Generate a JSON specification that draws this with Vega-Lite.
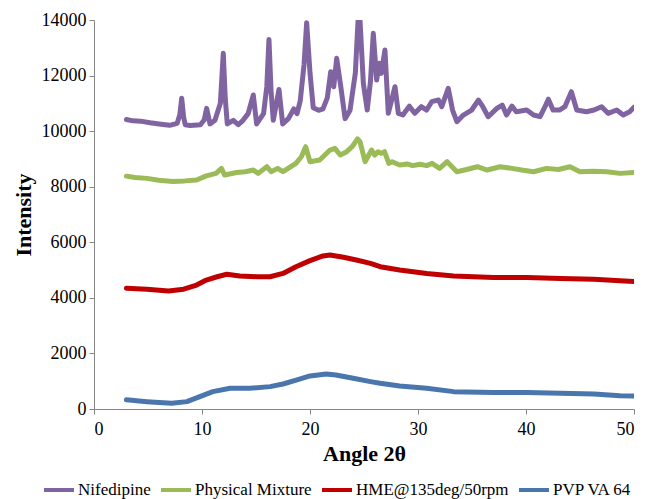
{
  "$schema": "https://vega.github.io/schema/vega-lite/v6.json",
  "autosize": {"type": "none"},
  "width": 540,
  "height": 389,
  "padding": {"left": 94, "top": 20, "right": 11, "bottom": 90},
  "background": "white",
  "config": {
    "view": {"stroke": null},
    "font": "Liberation Serif"
  },
  "datasets": {
    "xrd": [
      {"series": "Nifedipine", "angle": 3.0, "intensity": 10420},
      {"series": "Nifedipine", "angle": 3.6, "intensity": 10370},
      {"series": "Nifedipine", "angle": 4.3, "intensity": 10360},
      {"series": "Nifedipine", "angle": 5.2, "intensity": 10300},
      {"series": "Nifedipine", "angle": 6.2, "intensity": 10250},
      {"series": "Nifedipine", "angle": 7.0, "intensity": 10210},
      {"series": "Nifedipine", "angle": 7.7, "intensity": 10280},
      {"series": "Nifedipine", "angle": 7.95, "intensity": 10600},
      {"series": "Nifedipine", "angle": 8.12, "intensity": 11180},
      {"series": "Nifedipine", "angle": 8.3, "intensity": 10500},
      {"series": "Nifedipine", "angle": 8.45, "intensity": 10230},
      {"series": "Nifedipine", "angle": 8.9, "intensity": 10200},
      {"series": "Nifedipine", "angle": 9.85, "intensity": 10230},
      {"series": "Nifedipine", "angle": 10.2, "intensity": 10400},
      {"series": "Nifedipine", "angle": 10.43, "intensity": 10820},
      {"series": "Nifedipine", "angle": 10.74, "intensity": 10260},
      {"series": "Nifedipine", "angle": 11.2, "intensity": 10390},
      {"series": "Nifedipine", "angle": 11.7, "intensity": 11000},
      {"series": "Nifedipine", "angle": 11.97, "intensity": 12800},
      {"series": "Nifedipine", "angle": 12.15, "intensity": 11200},
      {"series": "Nifedipine", "angle": 12.34, "intensity": 10260},
      {"series": "Nifedipine", "angle": 12.9, "intensity": 10390},
      {"series": "Nifedipine", "angle": 13.36, "intensity": 10230},
      {"series": "Nifedipine", "angle": 13.8, "intensity": 10390},
      {"series": "Nifedipine", "angle": 14.27, "intensity": 10630},
      {"series": "Nifedipine", "angle": 14.75, "intensity": 11300},
      {"series": "Nifedipine", "angle": 15.06, "intensity": 10260},
      {"series": "Nifedipine", "angle": 15.7, "intensity": 10630},
      {"series": "Nifedipine", "angle": 16.0, "intensity": 11600},
      {"series": "Nifedipine", "angle": 16.2, "intensity": 13300},
      {"series": "Nifedipine", "angle": 16.4, "intensity": 11400},
      {"series": "Nifedipine", "angle": 16.6, "intensity": 10390},
      {"series": "Nifedipine", "angle": 17.13, "intensity": 11500},
      {"series": "Nifedipine", "angle": 17.47, "intensity": 10260},
      {"series": "Nifedipine", "angle": 18.0, "intensity": 10450},
      {"series": "Nifedipine", "angle": 18.5, "intensity": 10800},
      {"series": "Nifedipine", "angle": 18.8, "intensity": 10630},
      {"series": "Nifedipine", "angle": 19.1, "intensity": 11100},
      {"series": "Nifedipine", "angle": 19.45, "intensity": 12400},
      {"series": "Nifedipine", "angle": 19.69, "intensity": 13900},
      {"series": "Nifedipine", "angle": 20.0, "intensity": 12100},
      {"series": "Nifedipine", "angle": 20.3, "intensity": 10840},
      {"series": "Nifedipine", "angle": 20.8, "intensity": 10750},
      {"series": "Nifedipine", "angle": 21.2, "intensity": 10800},
      {"series": "Nifedipine", "angle": 21.6, "intensity": 11200},
      {"series": "Nifedipine", "angle": 21.92, "intensity": 12140},
      {"series": "Nifedipine", "angle": 22.2, "intensity": 11600},
      {"series": "Nifedipine", "angle": 22.47, "intensity": 12620},
      {"series": "Nifedipine", "angle": 22.85, "intensity": 11600},
      {"series": "Nifedipine", "angle": 23.25, "intensity": 10450},
      {"series": "Nifedipine", "angle": 23.7, "intensity": 10740},
      {"series": "Nifedipine", "angle": 24.2, "intensity": 12100},
      {"series": "Nifedipine", "angle": 24.45, "intensity": 13990},
      {"series": "Nifedipine", "angle": 24.63, "intensity": 13990},
      {"series": "Nifedipine", "angle": 24.94, "intensity": 11720},
      {"series": "Nifedipine", "angle": 25.3, "intensity": 10760},
      {"series": "Nifedipine", "angle": 25.6, "intensity": 11800},
      {"series": "Nifedipine", "angle": 25.86, "intensity": 13520},
      {"series": "Nifedipine", "angle": 26.17, "intensity": 11840},
      {"series": "Nifedipine", "angle": 26.4, "intensity": 12440},
      {"series": "Nifedipine", "angle": 26.6, "intensity": 12080},
      {"series": "Nifedipine", "angle": 26.94, "intensity": 12920},
      {"series": "Nifedipine", "angle": 27.25, "intensity": 10640},
      {"series": "Nifedipine", "angle": 27.87, "intensity": 11600},
      {"series": "Nifedipine", "angle": 28.18, "intensity": 10640},
      {"series": "Nifedipine", "angle": 28.6, "intensity": 10580},
      {"series": "Nifedipine", "angle": 29.2, "intensity": 10900},
      {"series": "Nifedipine", "angle": 29.7, "intensity": 10640},
      {"series": "Nifedipine", "angle": 30.3, "intensity": 10880},
      {"series": "Nifedipine", "angle": 30.8, "intensity": 10760},
      {"series": "Nifedipine", "angle": 31.27, "intensity": 11060},
      {"series": "Nifedipine", "angle": 31.9, "intensity": 11120},
      {"series": "Nifedipine", "angle": 32.2, "intensity": 10880},
      {"series": "Nifedipine", "angle": 32.8, "intensity": 11540},
      {"series": "Nifedipine", "angle": 33.2, "intensity": 10760},
      {"series": "Nifedipine", "angle": 33.6, "intensity": 10340},
      {"series": "Nifedipine", "angle": 34.2, "intensity": 10580},
      {"series": "Nifedipine", "angle": 34.97, "intensity": 10760},
      {"series": "Nifedipine", "angle": 35.6, "intensity": 11120},
      {"series": "Nifedipine", "angle": 36.0, "intensity": 10880},
      {"series": "Nifedipine", "angle": 36.5, "intensity": 10520},
      {"series": "Nifedipine", "angle": 37.3, "intensity": 10820},
      {"series": "Nifedipine", "angle": 37.8, "intensity": 10940},
      {"series": "Nifedipine", "angle": 38.2, "intensity": 10580},
      {"series": "Nifedipine", "angle": 38.7, "intensity": 10900},
      {"series": "Nifedipine", "angle": 39.1, "intensity": 10700},
      {"series": "Nifedipine", "angle": 40.06, "intensity": 10760},
      {"series": "Nifedipine", "angle": 40.7, "intensity": 10580},
      {"series": "Nifedipine", "angle": 41.3, "intensity": 10520},
      {"series": "Nifedipine", "angle": 41.76, "intensity": 10880},
      {"series": "Nifedipine", "angle": 42.07, "intensity": 11150},
      {"series": "Nifedipine", "angle": 42.5, "intensity": 10760},
      {"series": "Nifedipine", "angle": 43.1, "intensity": 10760},
      {"series": "Nifedipine", "angle": 43.6, "intensity": 10880},
      {"series": "Nifedipine", "angle": 44.2, "intensity": 11420},
      {"series": "Nifedipine", "angle": 44.7, "intensity": 10760},
      {"series": "Nifedipine", "angle": 45.6, "intensity": 10700},
      {"series": "Nifedipine", "angle": 46.3, "intensity": 10760},
      {"series": "Nifedipine", "angle": 47.0, "intensity": 10880},
      {"series": "Nifedipine", "angle": 47.6, "intensity": 10640},
      {"series": "Nifedipine", "angle": 48.4, "intensity": 10760},
      {"series": "Nifedipine", "angle": 49.0, "intensity": 10580},
      {"series": "Nifedipine", "angle": 49.6, "intensity": 10700},
      {"series": "Nifedipine", "angle": 50.0, "intensity": 10860},

      {"series": "Physical Mixture", "angle": 3.0, "intensity": 8380},
      {"series": "Physical Mixture", "angle": 3.8, "intensity": 8330},
      {"series": "Physical Mixture", "angle": 4.9, "intensity": 8300},
      {"series": "Physical Mixture", "angle": 6.0, "intensity": 8230},
      {"series": "Physical Mixture", "angle": 7.3, "intensity": 8190},
      {"series": "Physical Mixture", "angle": 8.4, "intensity": 8210},
      {"series": "Physical Mixture", "angle": 9.5, "intensity": 8240},
      {"series": "Physical Mixture", "angle": 10.4, "intensity": 8390},
      {"series": "Physical Mixture", "angle": 11.3, "intensity": 8480},
      {"series": "Physical Mixture", "angle": 11.8, "intensity": 8660},
      {"series": "Physical Mixture", "angle": 12.1, "intensity": 8420},
      {"series": "Physical Mixture", "angle": 13.2, "intensity": 8510},
      {"series": "Physical Mixture", "angle": 14.0, "intensity": 8540},
      {"series": "Physical Mixture", "angle": 14.75, "intensity": 8600},
      {"series": "Physical Mixture", "angle": 15.2, "intensity": 8480},
      {"series": "Physical Mixture", "angle": 16.0, "intensity": 8720},
      {"series": "Physical Mixture", "angle": 16.4, "intensity": 8540},
      {"series": "Physical Mixture", "angle": 17.0, "intensity": 8660},
      {"series": "Physical Mixture", "angle": 17.5, "intensity": 8540},
      {"series": "Physical Mixture", "angle": 18.7, "intensity": 8840},
      {"series": "Physical Mixture", "angle": 19.2, "intensity": 9080},
      {"series": "Physical Mixture", "angle": 19.6, "intensity": 9440},
      {"series": "Physical Mixture", "angle": 20.0, "intensity": 8900},
      {"series": "Physical Mixture", "angle": 20.9, "intensity": 8960},
      {"series": "Physical Mixture", "angle": 21.85, "intensity": 9320},
      {"series": "Physical Mixture", "angle": 22.3, "intensity": 9380},
      {"series": "Physical Mixture", "angle": 22.8, "intensity": 9140},
      {"series": "Physical Mixture", "angle": 23.4, "intensity": 9260},
      {"series": "Physical Mixture", "angle": 23.9, "intensity": 9440},
      {"series": "Physical Mixture", "angle": 24.4, "intensity": 9720},
      {"series": "Physical Mixture", "angle": 24.63, "intensity": 9620},
      {"series": "Physical Mixture", "angle": 25.1, "intensity": 8900},
      {"series": "Physical Mixture", "angle": 25.7, "intensity": 9320},
      {"series": "Physical Mixture", "angle": 26.0, "intensity": 9140},
      {"series": "Physical Mixture", "angle": 26.3, "intensity": 9260},
      {"series": "Physical Mixture", "angle": 26.6, "intensity": 9200},
      {"series": "Physical Mixture", "angle": 26.9, "intensity": 9260},
      {"series": "Physical Mixture", "angle": 27.3, "intensity": 8840},
      {"series": "Physical Mixture", "angle": 27.6, "intensity": 8900},
      {"series": "Physical Mixture", "angle": 28.3, "intensity": 8780},
      {"series": "Physical Mixture", "angle": 29.0, "intensity": 8820},
      {"series": "Physical Mixture", "angle": 29.5, "intensity": 8760},
      {"series": "Physical Mixture", "angle": 30.2, "intensity": 8810},
      {"series": "Physical Mixture", "angle": 30.8, "intensity": 8760},
      {"series": "Physical Mixture", "angle": 31.3, "intensity": 8840},
      {"series": "Physical Mixture", "angle": 32.0, "intensity": 8660},
      {"series": "Physical Mixture", "angle": 32.7, "intensity": 8900},
      {"series": "Physical Mixture", "angle": 33.6, "intensity": 8540},
      {"series": "Physical Mixture", "angle": 34.5, "intensity": 8620},
      {"series": "Physical Mixture", "angle": 35.5, "intensity": 8720},
      {"series": "Physical Mixture", "angle": 36.4, "intensity": 8600},
      {"series": "Physical Mixture", "angle": 37.6, "intensity": 8720},
      {"series": "Physical Mixture", "angle": 38.7, "intensity": 8660},
      {"series": "Physical Mixture", "angle": 39.6, "intensity": 8600},
      {"series": "Physical Mixture", "angle": 40.7, "intensity": 8540},
      {"series": "Physical Mixture", "angle": 41.9, "intensity": 8660},
      {"series": "Physical Mixture", "angle": 43.0, "intensity": 8620},
      {"series": "Physical Mixture", "angle": 44.07, "intensity": 8720},
      {"series": "Physical Mixture", "angle": 45.0, "intensity": 8540},
      {"series": "Physical Mixture", "angle": 46.2, "intensity": 8560},
      {"series": "Physical Mixture", "angle": 47.5, "intensity": 8540},
      {"series": "Physical Mixture", "angle": 48.7, "intensity": 8480},
      {"series": "Physical Mixture", "angle": 50.0, "intensity": 8510},

      {"series": "HME@135deg/50rpm", "angle": 3.0, "intensity": 4345},
      {"series": "HME@135deg/50rpm", "angle": 4.9, "intensity": 4310},
      {"series": "HME@135deg/50rpm", "angle": 6.9, "intensity": 4250},
      {"series": "HME@135deg/50rpm", "angle": 8.3, "intensity": 4310},
      {"series": "HME@135deg/50rpm", "angle": 9.5, "intensity": 4460},
      {"series": "HME@135deg/50rpm", "angle": 10.4, "intensity": 4640},
      {"series": "HME@135deg/50rpm", "angle": 11.4, "intensity": 4760},
      {"series": "HME@135deg/50rpm", "angle": 12.3, "intensity": 4850},
      {"series": "HME@135deg/50rpm", "angle": 13.5, "intensity": 4790},
      {"series": "HME@135deg/50rpm", "angle": 15.1, "intensity": 4760},
      {"series": "HME@135deg/50rpm", "angle": 16.3, "intensity": 4760},
      {"series": "HME@135deg/50rpm", "angle": 17.5, "intensity": 4880},
      {"series": "HME@135deg/50rpm", "angle": 18.7, "intensity": 5120},
      {"series": "HME@135deg/50rpm", "angle": 20.0, "intensity": 5340},
      {"series": "HME@135deg/50rpm", "angle": 21.2, "intensity": 5510},
      {"series": "HME@135deg/50rpm", "angle": 21.85, "intensity": 5540},
      {"series": "HME@135deg/50rpm", "angle": 23.1, "intensity": 5460},
      {"series": "HME@135deg/50rpm", "angle": 24.3, "intensity": 5360},
      {"series": "HME@135deg/50rpm", "angle": 25.6, "intensity": 5240},
      {"series": "HME@135deg/50rpm", "angle": 26.5, "intensity": 5120},
      {"series": "HME@135deg/50rpm", "angle": 28.3, "intensity": 5000},
      {"series": "HME@135deg/50rpm", "angle": 30.8, "intensity": 4880},
      {"series": "HME@135deg/50rpm", "angle": 33.3, "intensity": 4790},
      {"series": "HME@135deg/50rpm", "angle": 37.0, "intensity": 4730},
      {"series": "HME@135deg/50rpm", "angle": 40.1, "intensity": 4730},
      {"series": "HME@135deg/50rpm", "angle": 43.2, "intensity": 4700},
      {"series": "HME@135deg/50rpm", "angle": 46.3, "intensity": 4670},
      {"series": "HME@135deg/50rpm", "angle": 48.7, "intensity": 4620},
      {"series": "HME@135deg/50rpm", "angle": 50.0, "intensity": 4590},

      {"series": "PVP VA 64", "angle": 3.0, "intensity": 330},
      {"series": "PVP VA 64", "angle": 4.9, "intensity": 265},
      {"series": "PVP VA 64", "angle": 7.2, "intensity": 205},
      {"series": "PVP VA 64", "angle": 8.6, "intensity": 265},
      {"series": "PVP VA 64", "angle": 9.8, "intensity": 445},
      {"series": "PVP VA 64", "angle": 11.0, "intensity": 625},
      {"series": "PVP VA 64", "angle": 12.6, "intensity": 745},
      {"series": "PVP VA 64", "angle": 14.4, "intensity": 745},
      {"series": "PVP VA 64", "angle": 16.3, "intensity": 805},
      {"series": "PVP VA 64", "angle": 17.5, "intensity": 900},
      {"series": "PVP VA 64", "angle": 18.8, "intensity": 1045},
      {"series": "PVP VA 64", "angle": 20.0, "intensity": 1190},
      {"series": "PVP VA 64", "angle": 21.5, "intensity": 1260},
      {"series": "PVP VA 64", "angle": 22.4, "intensity": 1225},
      {"series": "PVP VA 64", "angle": 24.0, "intensity": 1105},
      {"series": "PVP VA 64", "angle": 25.6, "intensity": 985},
      {"series": "PVP VA 64", "angle": 26.5, "intensity": 925},
      {"series": "PVP VA 64", "angle": 28.3, "intensity": 830},
      {"series": "PVP VA 64", "angle": 30.8, "intensity": 745},
      {"series": "PVP VA 64", "angle": 33.3, "intensity": 625},
      {"series": "PVP VA 64", "angle": 37.0, "intensity": 590},
      {"series": "PVP VA 64", "angle": 40.1, "intensity": 590},
      {"series": "PVP VA 64", "angle": 43.2, "intensity": 565},
      {"series": "PVP VA 64", "angle": 46.3, "intensity": 540},
      {"series": "PVP VA 64", "angle": 48.7, "intensity": 480},
      {"series": "PVP VA 64", "angle": 50.0, "intensity": 470}
    ]
  },
  "data": {"name": "xrd"},
  "mark": {"type": "line", "strokeWidth": 5, "strokeJoin": "round", "strokeCap": "round", "clip": true},
  "encoding": {
    "x": {
      "field": "angle",
      "type": "quantitative",
      "scale": {"domain": [0, 50], "nice": false},
      "axis": {
        "title": "Angle 2θ",
        "values": [0, 10, 20, 30, 40, 50],
        "grid": false,
        "domainColor": "#868686",
        "tickColor": "#868686",
        "tickSize": 5,
        "labelFont": "Liberation Serif",
        "labelFontSize": 18,
        "labelColor": "#000000",
        "labelPadding": 6,
        "titleFont": "Liberation Serif",
        "titleFontSize": 22,
        "titleFontWeight": "bold",
        "titleColor": "#000000",
        "titlePadding": 5
      }
    },
    "y": {
      "field": "intensity",
      "type": "quantitative",
      "scale": {"domain": [0, 14000], "nice": false},
      "axis": {
        "title": "Intensity",
        "values": [0, 2000, 4000, 6000, 8000, 10000, 12000, 14000],
        "format": "d",
        "grid": false,
        "domainColor": "#868686",
        "tickColor": "#868686",
        "tickSize": 5,
        "labelFont": "Liberation Serif",
        "labelFontSize": 18,
        "labelColor": "#000000",
        "labelPadding": 3,
        "titleFont": "Liberation Serif",
        "titleFontSize": 22,
        "titleFontWeight": "bold",
        "titleColor": "#000000",
        "titlePadding": 6
      }
    },
    "color": {
      "field": "series",
      "type": "nominal",
      "scale": {
        "domain": ["Nifedipine", "Physical Mixture", "HME@135deg/50rpm", "PVP VA 64"],
        "range": ["#8064A2", "#9BBB59", "#C00000", "#4A76AE"]
      },
      "legend": {
        "title": null,
        "orient": "none",
        "direction": "horizontal",
        "columns": 4,
        "legendX": -52,
        "legendY": 453,
        "symbolType": "stroke",
        "symbolSize": 900,
        "symbolStrokeWidth": 4,
        "labelFont": "Liberation Serif",
        "labelFontSize": 17,
        "labelColor": "#000000",
        "labelOffset": 2,
        "columnPadding": 2,
        "labelLimit": 300
      }
    },
    "order": {"field": "angle", "type": "quantitative"}
  }
}
